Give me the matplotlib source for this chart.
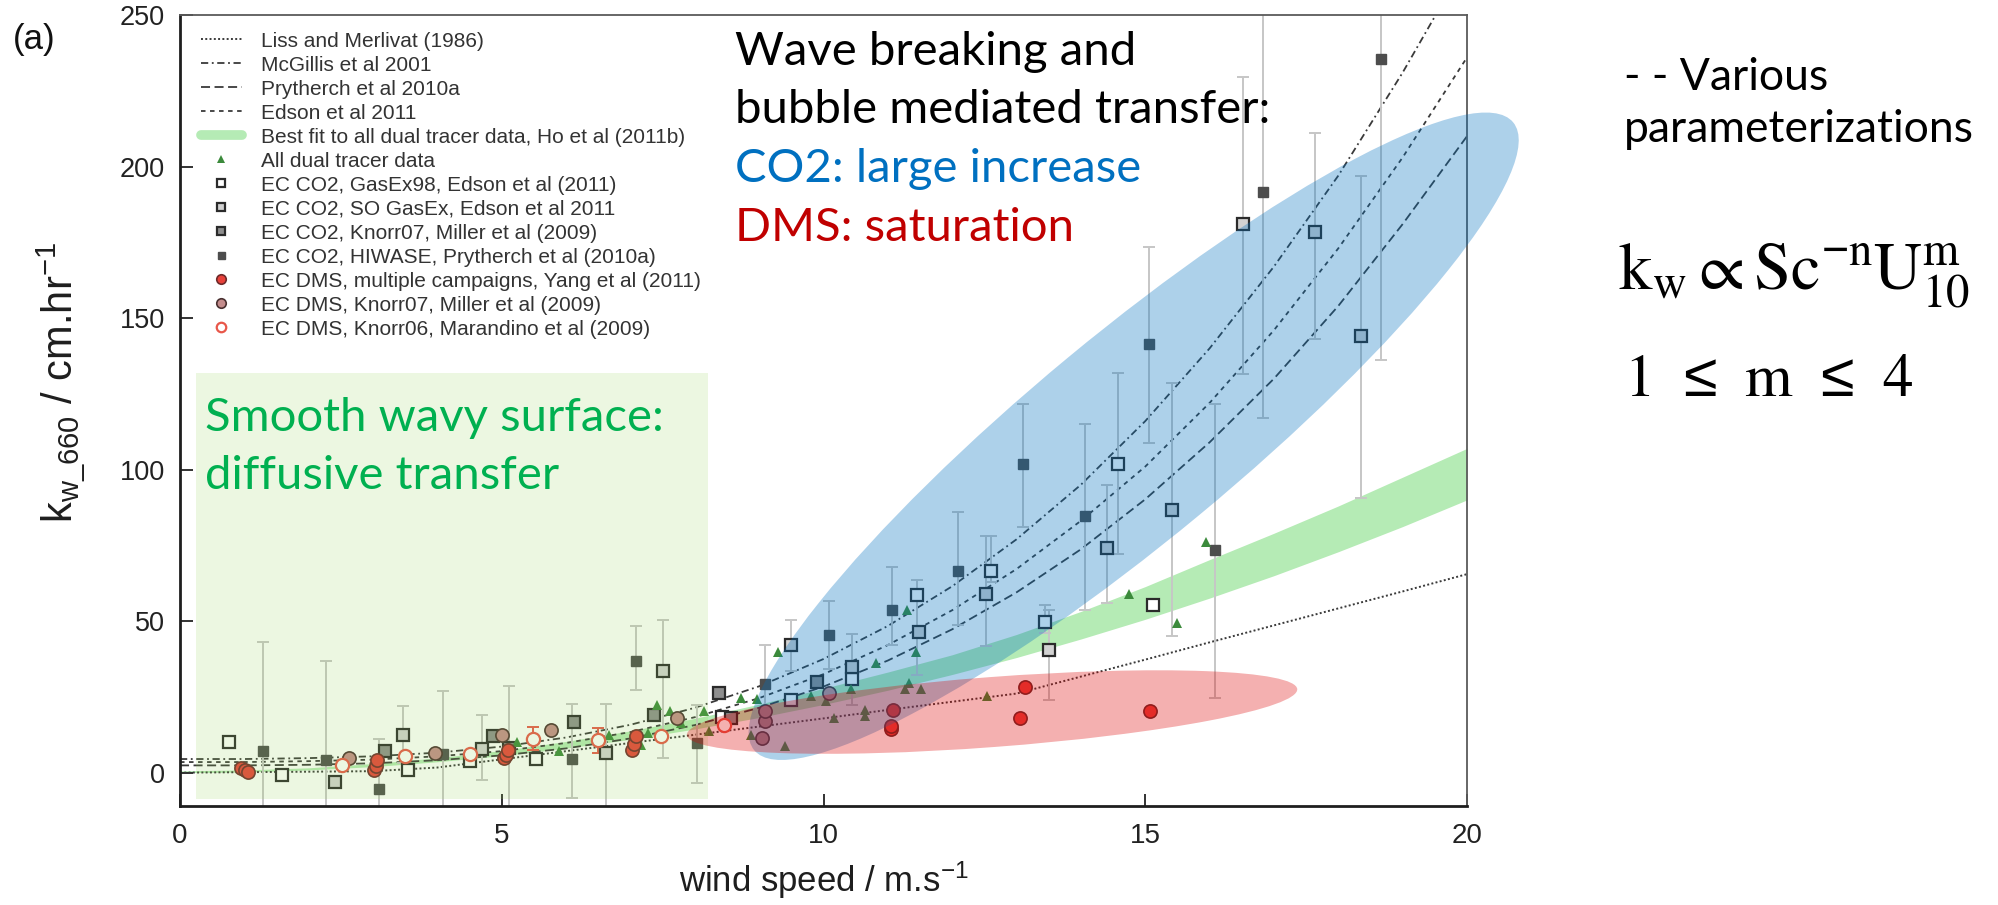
import matplotlib
matplotlib.use("Agg")
import matplotlib.pyplot as plt
from matplotlib.lines import Line2D
from matplotlib.patches import Ellipse, Rectangle
import matplotlib.transforms as mtransforms

# ---- parameterisation curves, read at 1 m/s steps ----
wind = list(range(0, 21))
liss_merlivat = [0, 0.16, 0.32, 0.49, 1.7, 4.4, 7.1, 9.8, 12.5, 15.2, 17.9, 20.7, 23.4, 26.1,
                 31.7, 37.3, 43.0, 48.6, 54.2, 59.8, 65.5]
mcgillis = [4.5, 4.5, 4.8, 5.4, 6.6, 8.6, 11.6, 15.8, 21.4, 28.5, 37.5, 48.4, 61.5, 77, 95,
            116, 140, 167, 197, 231, 268]
prytherch = [2.4, 2.4, 2.6, 3.1, 4.1, 5.7, 8.0, 11.3, 15.7, 21.4, 28.4, 37.0, 47.3, 59.5,
             73.7, 90.2, 109, 130, 154, 181, 210]
edson = [3.5, 3.5, 3.8, 4.3, 5.4, 7.1, 9.8, 13.4, 18.3, 24.6, 32.5, 42.1, 53.6, 67.2, 83.1,
         101, 122, 146, 173, 203, 236]
ho_lower = [0, 0.2, 0.9, 2.0, 3.6, 5.6, 8.1, 11.0, 14.4, 18.2, 22.5, 27.2, 32.4, 38.0, 44.1,
            50.6, 57.6, 65.0, 72.9, 81.2, 90.0]
ho_upper = [0.6, 0.9, 1.6, 3.0, 4.9, 7.3, 10.3, 13.8, 17.9, 22.6, 27.8, 33.2, 38.9, 45.6,
            53.2, 61.4, 70.3, 79.0, 88.0, 97.5, 107.0]

# ---- measurements ----
dual_u = [5.23, 5.89, 6.67, 7.17, 7.28, 7.42, 7.61, 7.78, 8.14, 8.22, 8.72, 8.88, 8.97, 9.29,
          9.40, 9.81, 10.04, 10.16, 10.43, 10.65, 10.65, 10.82, 11.26, 11.29, 11.33, 11.43,
          11.52, 12.54, 14.74, 15.50, 15.95]
dual_k = [10.2, 7.0, 12.5, 9.2, 13.1, 22.4, 20.3, 16.5, 20.3, 13.6, 24.6, 12.5, 24.3, 39.8,
          8.7, 25.2, 23.6, 18.0, 27.6, 20.8, 18.6, 36.2, 27.6, 53.8, 29.6, 39.8, 27.6, 25.4,
          59.1, 49.4, 76.0]

gasex98_u = [0.76, 1.58, 3.55, 4.50, 5.53, 8.43, 9.49, 10.45, 11.45, 12.61, 13.44, 14.58, 15.12]
gasex98_k = [10.2, -0.7, 1.0, 3.7, 4.5, 18.4, 24.1, 30.9, 58.7, 66.7, 49.7, 101.7, 55.4]

sogasex_u = [2.41, 3.46, 4.70, 6.62, 7.50, 9.50, 10.45, 11.48, 12.53, 13.51, 14.40, 15.41,
             16.52, 17.64, 18.35]
sogasex_k = [-3.2, 12.5, 7.8, 6.4, 33.7, 42.0, 34.9, 46.3, 59.1, 40.4, 74.2, 86.8, 181.0,
             178.4, 144.0]

knorr07_co2_u = [3.19, 4.87, 5.12, 6.12, 7.36, 8.37, 8.56, 9.90]
knorr07_co2_k = [7.0, 12.0, 8.1, 16.7, 19.1, 26.3, 18.0, 29.8]

hiwase_u = [1.29, 2.27, 3.10, 4.08, 6.09, 7.08, 8.04, 9.09, 10.08, 11.06, 12.09, 13.10, 14.06,
            15.06, 16.08, 16.83, 18.66]
hiwase_k = [7.2, 4.3, -5.4, 6.2, 4.6, 36.7, 9.8, 29.4, 45.5, 53.6, 66.4, 102.0, 84.7, 141.3,
            73.6, 191.7, 235.5]

yang_u = [0.95, 1.01, 1.05, 3.02, 3.04, 3.06, 5.04, 5.06, 5.09, 7.03, 7.06, 7.08, 11.05, 11.05,
          11.08, 13.05, 13.13, 15.07]
yang_k = [1.6, 0.8, 0.2, 0.8, 2.1, 4.3, 4.8, 5.9, 7.6, 7.6, 9.3, 12.0, 14.4, 15.4, 20.8, 17.9,
          28.3, 20.2]

knorr07_dms_u = [2.62, 3.96, 5.01, 5.76, 7.73, 9.04, 9.09, 9.09, 10.08]
knorr07_dms_k = [4.9, 6.4, 12.5, 14.2, 18.0, 11.4, 16.9, 20.2, 26.3]

knorr06_u = [2.51, 3.49, 4.50, 5.49, 6.50, 7.47, 8.45]
knorr06_k = [2.4, 5.4, 6.2, 11.1, 10.7, 12.0, 15.6]

# uncertainty ranges (bottom, top) of the EC CO2 values
co2_err_u = [1.29, 2.27, 3.10, 4.08, 6.09, 7.08, 8.04, 9.09, 10.08, 11.06, 12.09, 13.10, 14.06,
             15.06, 16.08, 16.83, 18.66, 5.12, 11.45, 12.61, 13.44, 14.58, 3.46, 4.70, 6.62,
             7.50, 9.50, 10.45, 12.53, 13.51, 14.40, 15.41, 16.52, 17.64, 18.35]
co2_err_lo = [-15, -15, -12, -15, -8.2, 27.4, -3.3, 19.8, 34.2, 42.2, 48.8, 81.0, 53.6, 108.8,
              24.6, 117.0, 136.0, -15, 32.3, 63.0, 46.1, 72.0, 3.3, -2.5, -15, 5.0, 33.4,
              22.4, 41.7, 24.1, 56.0, 45.0, 131.7, 143.0, 90.6]
co2_err_hi = [43, 36.7, 11, 27, 22.8, 48.3, 22.4, 42.0, 56.5, 67.9, 85.9, 121.7, 115.2, 173.5,
              121.8, 280, 280, 28.7, 63.7, 78.0, 55.4, 132.0, 21.9, 19.0, 22.8, 50.5, 50.5,
              45.9, 78.0, 53.8, 95.0, 128.6, 229.7, 211.0, 197.0]
dms_err_u = [5.49, 6.50]
dms_err_lo = [7.4, 6.5]
dms_err_hi = [15.0, 14.8]

W, H = 1999, 905

plt.rcParams["font.family"] = ["Liberation Sans", "DejaVu Sans"]
plt.rcParams["mathtext.default"] = "regular"

fig = plt.figure(figsize=(W / 100, H / 100), dpi=100)
ax = fig.add_axes([180 / W, 1 - 806 / H, 1287 / W, 791 / H])


def fxy(px, py):
    return px / W, 1 - py / H


# curves
line_col = "#3a3a3a"
h_liss, = ax.plot(wind, liss_merlivat, color=line_col, lw=1.4, ls=(0, (1, 1.2)), zorder=2)
h_mcg, = ax.plot(wind, mcgillis, color=line_col, lw=1.3, ls=(0, (4, 2, 1, 2)), zorder=2)
h_pry, = ax.plot(wind, prytherch, color=line_col, lw=1.3, ls=(0, (5, 2.5)), zorder=2)
h_eds, = ax.plot(wind, edson, color=line_col, lw=1.3, ls=(0, (2.5, 2.5)), zorder=2)
ax.fill_between(wind, ho_lower, ho_upper, color="#b5ebb5", lw=0, zorder=1)
h_ho = Line2D([], [], color="#b5ebb5", lw=7, solid_capstyle="round")

# error bars
mid = [(a + b) / 2 for a, b in zip(co2_err_lo, co2_err_hi)]
half = [(b - a) / 2 for a, b in zip(co2_err_lo, co2_err_hi)]
ax.errorbar(co2_err_u, mid, yerr=half, fmt="none", ecolor="#c6c6c6", elinewidth=1.4,
            capsize=4.5, capthick=1.4, zorder=2.5)
mid = [(a + b) / 2 for a, b in zip(dms_err_lo, dms_err_hi)]
half = [(b - a) / 2 for a, b in zip(dms_err_lo, dms_err_hi)]
ax.errorbar(dms_err_u, mid, yerr=half, fmt="none", ecolor="#e8574a", elinewidth=1.4,
            capsize=4.5, capthick=1.4, zorder=2.5)

# data points
sq = dict(ls="none", marker="s", ms=8.5, mec="#2b2b2b", mew=1.6, zorder=3)
ci = dict(ls="none", marker="o", ms=9.5, zorder=3.2)
h_dual, = ax.plot(dual_u, dual_k, ls="none", marker="^", ms=7.5, color="#3b8a3b", mew=0, zorder=3.1)
h_g98, = ax.plot(gasex98_u, gasex98_k, mfc="white", **sq)
h_so, = ax.plot(sogasex_u, sogasex_k, mfc="#d2d2d2", **sq)
h_k7c, = ax.plot(knorr07_co2_u, knorr07_co2_k, mfc="#8e8e8e", **sq)
h_hw, = ax.plot(hiwase_u, hiwase_k, ls="none", marker="s", ms=7, color="#4d4d4d", zorder=3)
h_yang, = ax.plot(yang_u, yang_k, mfc="#e8413a", mec="#6e2a2a", mew=1.2, **ci)
h_k7d, = ax.plot(knorr07_dms_u, knorr07_dms_k, mfc="#c48c8c", mec="#4a3030", mew=1.2, **ci)
h_k6, = ax.plot(knorr06_u, knorr06_k, mfc="white", mec="#e8574a", mew=1.6, **ci)

ax.set_xlim(0, 20)
ax.set_ylim(-11, 250)
ax.set_xticks([0, 5, 10, 15, 20])
ax.set_yticks([0, 50, 100, 150, 200, 250])
ax.tick_params(direction="in", length=9, width=1.3, colors="#222222", top=False, right=False)
ax.tick_params(axis="x", labelsize=20, pad=12)
ax.tick_params(axis="y", labelsize=19.5, pad=11)
for side in ("left", "bottom"):
    ax.spines[side].set_linewidth(2.0)
    ax.spines[side].set_color("#1e1e1e")
for side in ("top", "right"):
    ax.spines[side].set_linewidth(1.3)
    ax.spines[side].set_color("#5a5a5a")
ax.set_xlabel("wind speed / m.s$^{-1}$", fontsize=25, labelpad=8, color="#1e1e1e")
ax.set_ylabel("k$_{w\\_660}$ / cm.hr$^{-1}$", fontsize=30, color="#1e1e1e")
ax.yaxis.set_label_coords(-0.0715, 0.536)

leg = ax.legend(
    [h_liss, h_mcg, h_pry, h_eds, h_ho, h_dual, h_g98, h_so, h_k7c, h_hw, h_yang, h_k7d, h_k6],
    ["Liss and Merlivat (1986)", "McGillis et al 2001", "Prytherch et al 2010a",
     "Edson et al 2011", "Best fit to all dual tracer data, Ho et al (2011b)",
     "All dual tracer data", "EC CO2, GasEx98, Edson et al (2011)",
     "EC CO2, SO GasEx, Edson et al 2011", "EC CO2, Knorr07, Miller et al (2009)",
     "EC CO2, HIWASE, Prytherch et al (2010a)",
     "EC DMS, multiple campaigns, Yang et al (2011)", "EC DMS, Knorr07, Miller et al (2009)",
     "EC DMS, Knorr06, Marandino et al (2009)"],
    loc="upper left", bbox_to_anchor=(0.016, 0.979), frameon=False, fontsize=15,
    borderpad=0, borderaxespad=0, labelspacing=0.24, handlelength=2.0,
    handletextpad=0.9, markerscale=0.72, labelcolor="#333333")
leg.set_zorder(10)

# highlighted regimes
ax.add_patch(Rectangle((0.25, -8.6), 7.95, 140.6, facecolor="#92d050", alpha=0.17,
                       lw=0, zorder=5))


def ellipse_at(cx, cy, w_in, h_in, angle, color, alpha, z):
    tr = fig.dpi_scale_trans + mtransforms.ScaledTranslation(cx, cy, ax.transData)
    e = Ellipse((0, 0), w_in, h_in, angle=angle, transform=tr, facecolor=color,
                alpha=alpha, lw=0, zorder=z, clip_on=False)
    ax.add_artist(e)


ellipse_at(14.82, 111.0, 9.85, 2.05, 39.6, "#0070c0", 0.32, 6)
ellipse_at(12.62, 20.0, 6.12, 0.70, 4.3, "#dc0000", 0.31, 7)

# annotations
slide = dict(family=["Lato", "DejaVu Sans"], fontsize=34, va="baseline", ha="left")
fig.text(*fxy(735, 65), "Wave breaking and", color="black", **slide)
fig.text(*fxy(735, 123), "bubble mediated transfer:", color="black", **slide)
fig.text(*fxy(735, 182), "CO2: large increase", color="#0070c0", **slide)
fig.text(*fxy(735, 241), "DMS: saturation", color="#c00000", **slide)
fig.text(*fxy(205, 431), "Smooth wavy surface:", color="#00b050", **slide)
fig.text(*fxy(205, 489), "diffusive transfer", color="#00b050", **slide)
fig.text(*fxy(1624, 90), "- - Various", color="black", **dict(slide, fontsize=32))
fig.text(*fxy(1624, 142), "parameterizations", color="black", **dict(slide, fontsize=32))
fig.text(*fxy(1618, 290), r"$\mathrm{k_w} \propto \mathrm{Sc}^{-\mathrm{n}}\mathrm{U}_{\mathrm{10}}^{\mathrm{m}}$",
         fontsize=48, va="baseline", ha="left", math_fontfamily="stix")
fig.text(*fxy(1624, 396), r"$\mathrm{1}\:\:\leq\:\:\mathrm{m}\:\:\leq\:\:\mathrm{4}$",
         fontsize=44, va="baseline", ha="left", math_fontfamily="stix")
fig.text(*fxy(13, 39), "(a)", fontsize=25, va="center", ha="left", color="#111111")

fig.savefig("out.png", dpi=100)
